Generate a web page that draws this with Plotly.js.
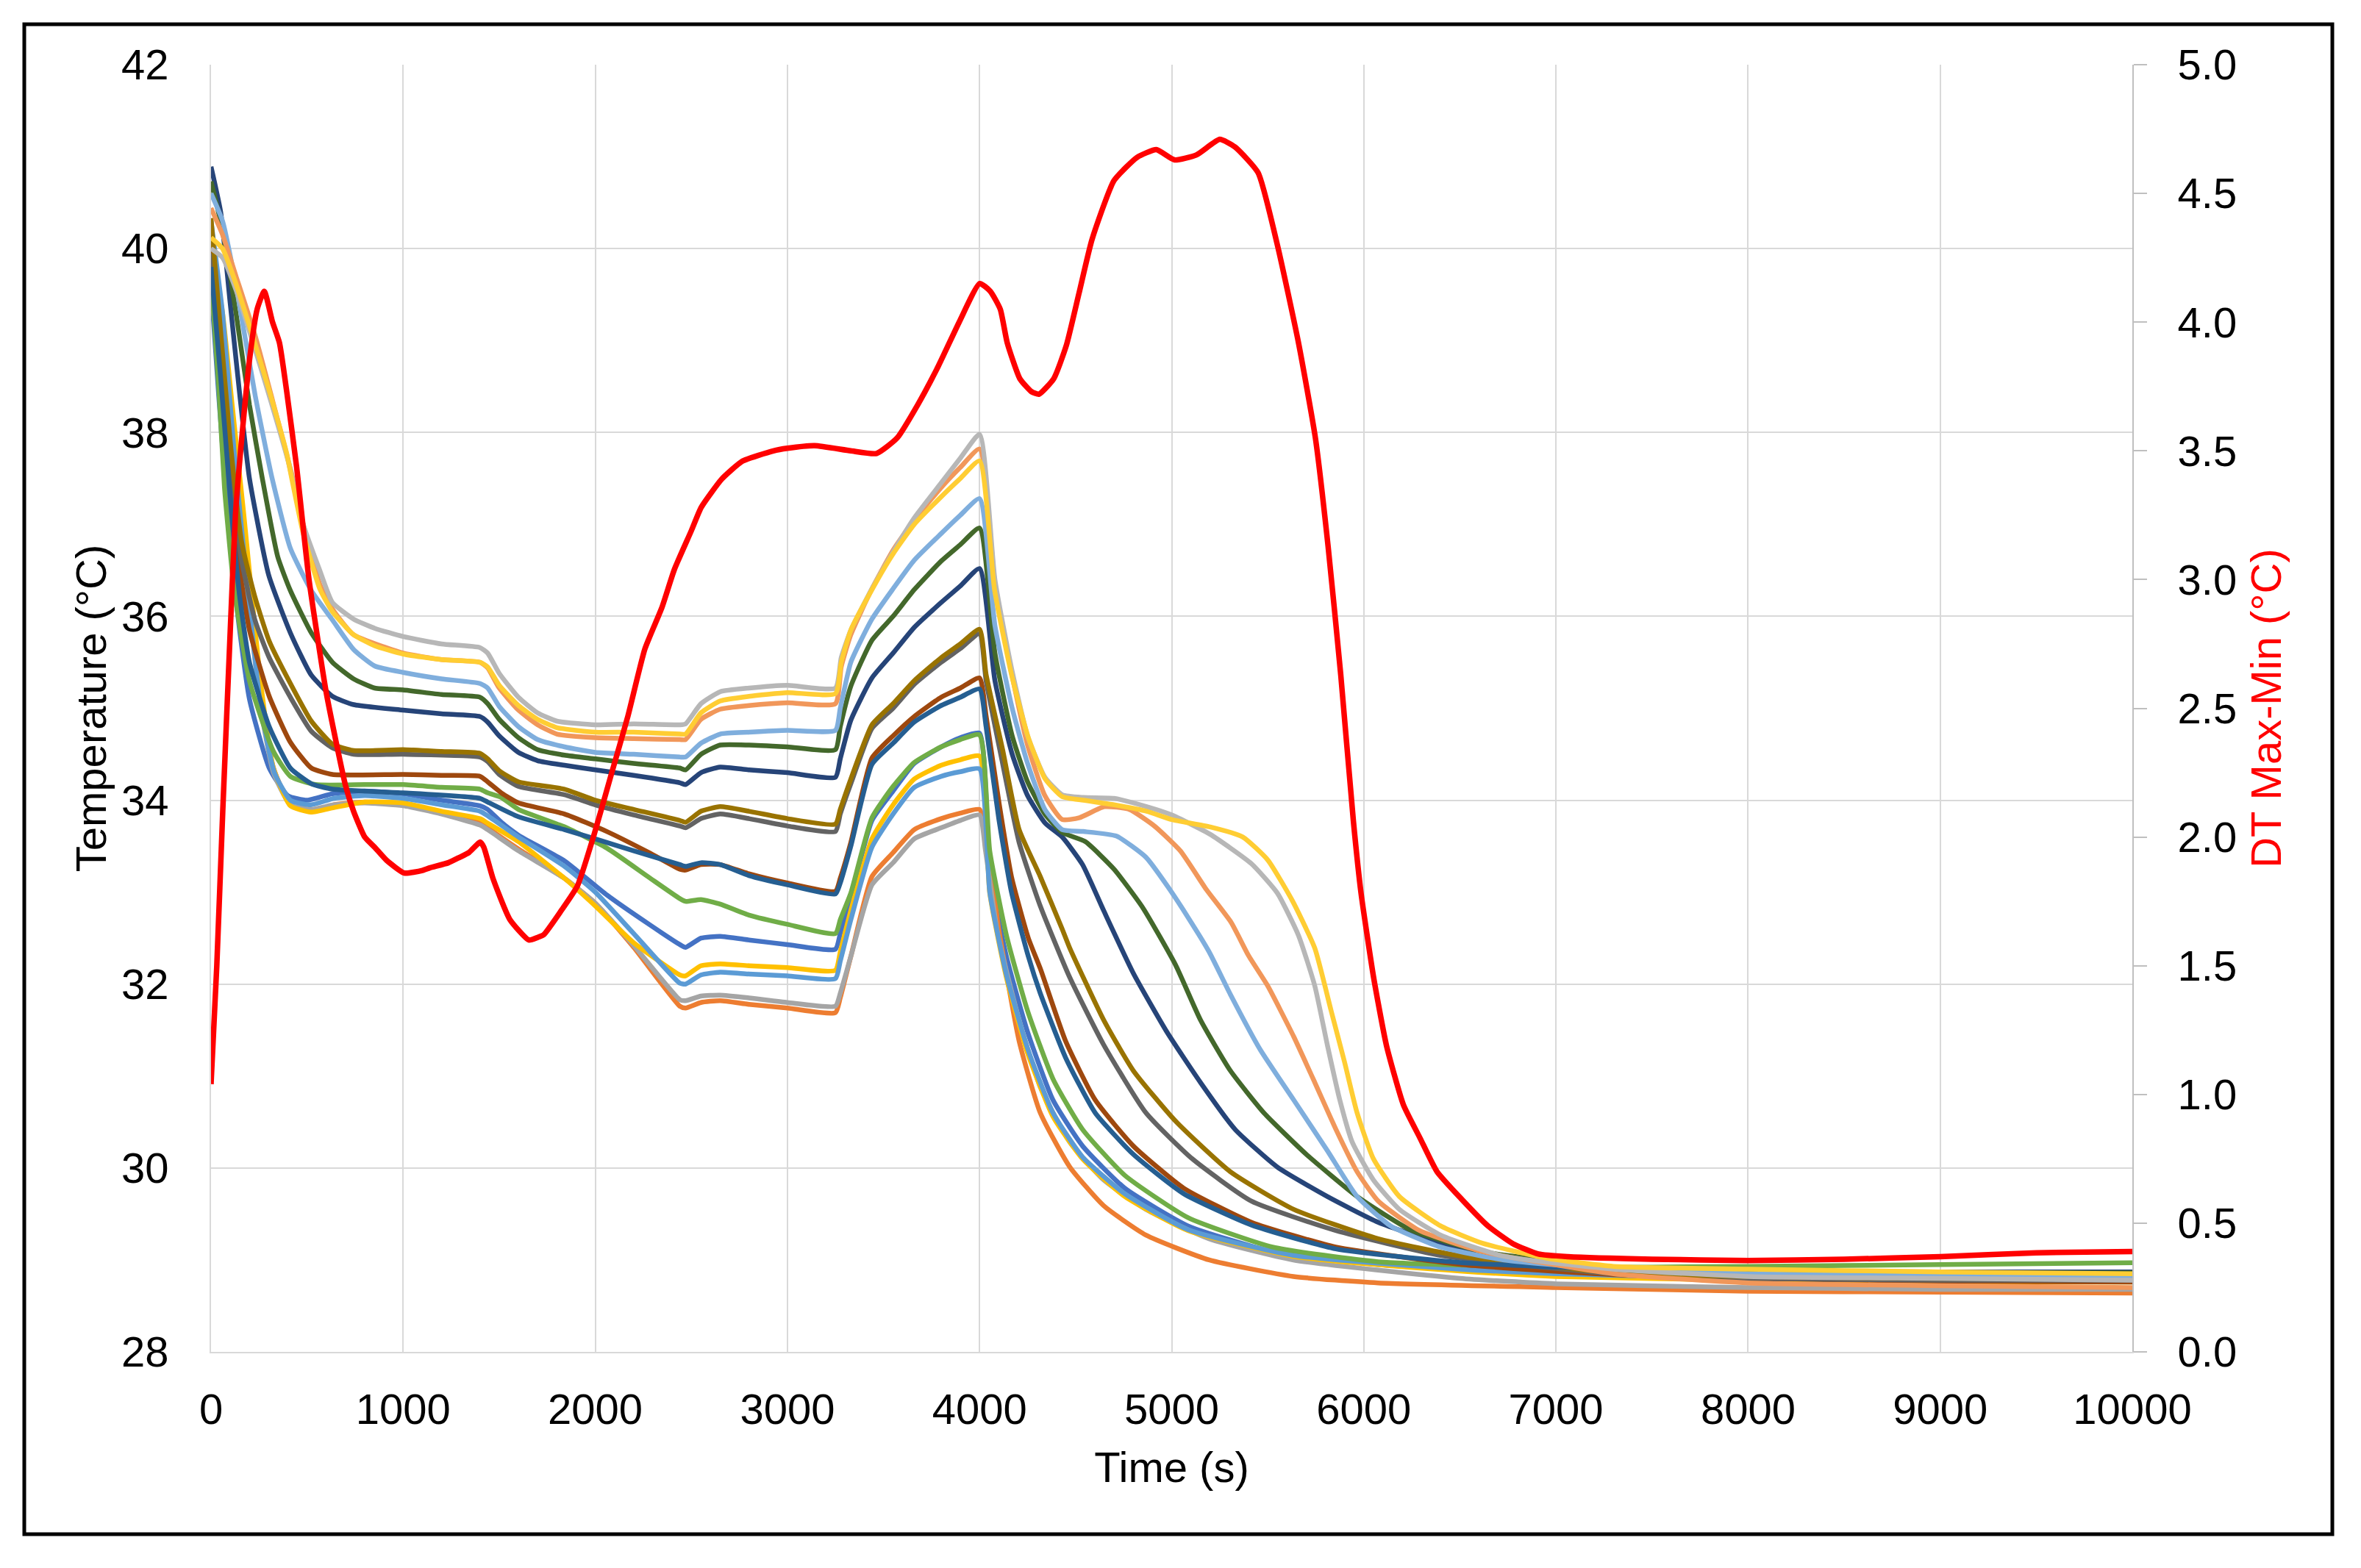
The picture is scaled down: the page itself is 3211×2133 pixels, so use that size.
<!DOCTYPE html>
<html>
<head>
<meta charset="utf-8">
<script src="https://cdn.plot.ly/plotly-3.0.1.min.js"></script>
<style>
html,body{margin:0;padding:0;background:#fff;}
#chart{width:3211px;height:2133px;}
</style>
</head>
<body>
<div id="chart"></div>
<script>
// ---------------- DATA ----------------
// Temperature series (°C) vs time (s)
const time_blue = [0,40,80,140,200,303,400,500,632,800,1000,1200,1400,1440,1511,1600,1840,2060,2280,2440,2470,2550,2650,2800,3000,3250,3275,3330,3440,3550,3660,3800,3900,4000,4053,4140,4250,4382,4536,4756,5085,5525,6075,7000,8000,9000,10000];
const temp_blue = [39.6,38.4,37.3,36.0,35.1,34.35,34.05,34.0,34.07,34.1,34.07,34.0,33.94,33.9,33.76,33.62,33.34,32.97,32.65,32.43,32.4,32.5,32.52,32.48,32.43,32.38,32.55,32.95,33.78,34.1,34.4,34.58,34.68,34.73,33.22,32.3,31.48,30.74,30.24,29.78,29.37,29.09,28.95,28.85,28.83,28.82,28.82];

const time_orange = [0,60,110,171,259,325,413,520,640,800,1000,1200,1400,1440,1600,1840,2000,2200,2440,2470,2550,2650,2800,3000,3250,3275,3330,3440,3550,3660,3800,3900,4000,4031,4100,4206,4316,4470,4646,4866,5195,5634,6075,7000,8000,9000,10000];
const temp_orange = [39.9,39.0,37.9,36.8,35.1,34.35,33.95,33.88,33.95,33.98,33.95,33.86,33.76,33.7,33.47,33.15,32.88,32.4,31.76,31.74,31.8,31.82,31.78,31.74,31.69,31.85,32.3,33.17,33.43,33.68,33.8,33.86,33.9,33.68,32.6,31.38,30.6,30.01,29.59,29.27,29.0,28.82,28.75,28.7,28.66,28.65,28.64];

const time_gray = [0,60,110,171,259,325,413,520,640,800,1000,1200,1400,1440,1600,1840,2000,2200,2440,2470,2550,2650,2800,3000,3250,3275,3330,3440,3550,3660,3800,3900,4000,4031,4096,4206,4316,4470,4646,4866,5195,5634,6500,7000,8000,9000,10000];
const temp_gray = [39.5,38.6,37.6,36.6,35.0,34.3,33.95,33.9,33.95,33.97,33.94,33.85,33.73,33.68,33.45,33.15,32.88,32.42,31.83,31.82,31.87,31.88,31.85,31.8,31.76,31.9,32.3,33.08,33.32,33.58,33.7,33.78,33.84,33.45,32.53,31.61,30.88,30.28,29.87,29.55,29.23,29.0,28.8,28.74,28.7,28.68,28.68];

const time_yellow = [0,60,110,171,259,325,413,520,640,800,1000,1200,1400,1440,1600,1840,2000,2200,2440,2470,2550,2650,2800,3000,3250,3275,3330,3440,3550,3660,3800,3900,4000,4053,4140,4250,4382,4536,4756,5085,5634,6500,7000,8000,9000,10000];
const temp_yellow = [40.0,39.3,38.3,37.1,35.27,34.35,33.94,33.87,33.92,33.98,33.97,33.88,33.8,33.75,33.55,33.15,32.85,32.45,32.1,32.09,32.2,32.22,32.2,32.18,32.15,32.35,32.8,33.58,33.95,34.23,34.38,34.44,34.48,32.99,32.07,31.25,30.56,30.1,29.69,29.32,29.04,28.88,28.82,28.78,28.76,28.76];

const time_lightblue = [0,60,120,190,260,330,413,520,640,800,1000,1200,1400,1440,1600,1840,2000,2200,2440,2470,2550,2650,2800,3000,3250,3275,3330,3440,3550,3660,3800,3900,4000,4053,4140,4250,4382,4536,4756,5085,5634,6500,7000,8000,9000,10000];
const temp_lightblue = [40.3,39.3,37.8,36.3,35.0,34.3,34.0,33.95,34.02,34.05,34.02,33.95,33.88,33.83,33.6,33.28,33.0,32.55,32.01,32.0,32.1,32.13,32.11,32.09,32.06,32.25,32.7,33.49,33.85,34.14,34.26,34.31,34.34,33.0,32.1,31.3,30.6,30.12,29.72,29.33,29.05,28.9,28.85,28.8,28.78,28.78];

const time_green = [0,40,70,120,200,325,413,544,800,1000,1200,1400,1440,1511,1600,1840,2060,2280,2440,2470,2550,2650,2800,3000,3250,3275,3330,3440,3550,3660,3800,3900,4000,4053,4140,4250,4382,4536,4756,5085,5525,6075,7000,8000,9000,10000];
const temp_green = [39.7,38.5,37.4,36.3,35.3,34.53,34.26,34.17,34.17,34.17,34.14,34.12,34.08,34.03,33.9,33.71,33.48,33.16,32.93,32.9,32.92,32.87,32.75,32.65,32.55,32.7,32.99,33.81,34.15,34.41,34.58,34.66,34.71,33.45,32.53,31.71,30.97,30.42,29.92,29.46,29.14,28.98,28.92,28.93,28.95,28.97];

const time_darkblue = [0,50,100,150,200,300,413,522,632,742,1000,1200,1400,1440,1500,1600,1700,1840,2000,2200,2440,2470,2550,2650,2800,3000,3250,3275,3330,3440,3550,3660,3800,3900,4000,4080,4170,4250,4342,4430,4536,4646,4800,4975,5150,5330,5550,5810,6075,6400,6840,7300,8000,9000,10000];
const temp_darkblue = [40.89,40.4,39.4,38.4,37.5,36.45,35.82,35.36,35.13,35.04,34.98,34.94,34.91,34.85,34.7,34.52,34.43,34.38,34.33,34.27,34.19,34.17,34.3,34.36,34.33,34.3,34.25,34.45,34.87,35.33,35.6,35.88,36.15,36.33,36.52,35.3,34.5,34.05,33.75,33.6,33.3,32.8,32.12,31.48,30.93,30.42,30.01,29.69,29.41,29.18,29.0,28.92,28.88,28.87,28.87];

const time_brown = [0,50,100,150,200,303,413,522,632,1000,1200,1400,1440,1511,1600,1840,2060,2280,2440,2470,2550,2650,2800,3000,3250,3275,3330,3440,3550,3660,3800,3900,4000,4034,4100,4166,4254,4316,4448,4602,4800,5063,5415,5854,6513,7300,8000,9000,10000];
const temp_brown = [40.0,38.8,37.5,36.5,35.85,35.13,34.63,34.35,34.28,34.28,34.27,34.26,34.2,34.08,33.97,33.85,33.66,33.43,33.25,33.24,33.3,33.3,33.2,33.1,33.01,33.15,33.54,34.46,34.7,34.91,35.12,35.22,35.33,34.92,33.99,33.17,32.5,32.17,31.38,30.74,30.24,29.78,29.41,29.14,28.95,28.84,28.8,28.77,28.76];

const time_darkgray = [0,50,100,160,230,303,413,522,632,742,1000,1400,1440,1500,1600,1840,2000,2200,2440,2470,2550,2650,2800,3000,3250,3275,3330,3440,3550,3660,3800,3900,4000,4034,4120,4206,4316,4470,4646,4866,5107,5415,5854,6400,7300,8000,9000,10000];
const temp_darkgray = [39.95,38.9,37.7,36.6,35.95,35.55,35.12,34.75,34.57,34.5,34.5,34.47,34.42,34.28,34.15,34.06,33.95,33.84,33.72,33.7,33.8,33.85,33.8,33.72,33.66,33.85,34.18,34.78,35.0,35.26,35.5,35.65,35.81,35.3,34.4,33.54,32.85,32.07,31.34,30.6,30.1,29.64,29.32,29.05,28.85,28.8,28.78,28.78];

const time_olive = [0,50,100,160,230,303,413,522,632,742,1000,1200,1400,1440,1500,1600,1840,2000,2200,2440,2470,2550,2650,2800,3000,3250,3275,3330,3440,3550,3660,3800,3900,4000,4034,4120,4206,4316,4430,4470,4646,4800,5020,5305,5635,6075,6513,7300,8000,9000,10000];
const temp_olive = [40.33,39.1,37.9,36.8,36.2,35.73,35.27,34.86,34.61,34.54,34.55,34.53,34.51,34.45,34.32,34.2,34.12,34.0,33.9,33.78,33.76,33.88,33.93,33.88,33.8,33.74,33.9,34.23,34.82,35.05,35.3,35.55,35.7,35.86,35.37,34.55,33.68,33.17,32.6,32.39,31.61,31.06,30.51,29.96,29.55,29.23,29.04,28.86,28.82,28.8,28.8];

const time_steelblue = [0,50,100,150,200,303,413,522,632,1000,1400,1440,1600,1840,2000,2200,2440,2470,2550,2650,2800,3000,3250,3275,3330,3440,3550,3660,3800,3900,4000,4034,4100,4166,4254,4316,4448,4602,4800,5063,5415,5854,6513,7300,8000,9000,10000];
const temp_steelblue = [39.8,38.6,37.3,36.2,35.5,34.8,34.35,34.18,34.12,34.08,34.02,33.98,33.82,33.68,33.58,33.45,33.3,33.28,33.32,33.3,33.18,33.08,32.98,33.1,33.5,34.39,34.62,34.85,35.03,35.12,35.21,34.8,33.8,33.0,32.3,31.9,31.2,30.6,30.15,29.72,29.38,29.12,28.97,28.9,28.88,28.86,28.85];

const time_darkgreen = [0,60,130,200,267,347,413,522,632,742,852,1000,1200,1400,1440,1500,1600,1700,1840,2000,2200,2440,2470,2550,2650,2800,3000,3250,3275,3330,3440,3550,3660,3800,3900,4000,4080,4170,4250,4340,4430,4550,4700,4850,5020,5150,5305,5480,5700,5965,6250,6620,7300,8000,9000,10000];
const temp_darkgreen = [40.73,40.2,39.3,38.3,37.5,36.65,36.28,35.82,35.5,35.32,35.22,35.2,35.15,35.12,35.05,34.88,34.68,34.55,34.49,34.45,34.4,34.35,34.33,34.5,34.6,34.6,34.58,34.55,34.8,35.24,35.74,36.0,36.29,36.6,36.78,36.96,35.6,34.7,34.2,33.85,33.65,33.55,33.25,32.83,32.21,31.61,31.06,30.6,30.15,29.69,29.32,29.09,28.92,28.88,28.86,28.86];

const time_skyblue = [0,60,130,230,318,413,522,632,742,852,1000,1200,1400,1440,1500,1600,1700,1840,2000,2200,2440,2470,2550,2650,2800,3000,3250,3275,3330,3440,3550,3660,3800,3900,4000,4080,4170,4250,4340,4430,4540,4712,4866,4980,5090,5195,5305,5460,5635,5810,5965,6140,6400,6730,7300,8000,9000,10000];
const temp_skyblue = [40.6,40.3,39.6,38.4,37.5,36.74,36.28,35.96,35.64,35.46,35.39,35.32,35.27,35.22,35.02,34.8,34.66,34.58,34.52,34.5,34.47,34.47,34.62,34.72,34.74,34.76,34.76,35.0,35.5,35.97,36.3,36.61,36.9,37.1,37.28,35.9,35.0,34.4,33.9,33.68,33.66,33.61,33.38,33.06,32.71,32.35,31.89,31.29,30.74,30.19,29.69,29.37,29.14,29.0,28.9,28.85,28.83,28.82];

const time_lightorange = [0,60,130,230,320,420,480,566,632,742,1000,1200,1400,1440,1500,1600,1700,1800,2000,2200,2440,2470,2550,2650,2800,3000,3250,3280,3330,3440,3550,3660,3800,3900,4000,4080,4170,4250,4340,4430,4520,4650,4780,4910,5045,5180,5310,5400,5500,5635,5745,5855,5965,6075,6290,6620,7300,8000,9000,10000];
const temp_lightorange = [40.44,40.15,39.7,39.05,38.35,37.55,37.0,36.35,36.08,35.8,35.6,35.53,35.5,35.44,35.22,34.98,34.82,34.72,34.68,34.67,34.66,34.66,34.88,34.99,35.03,35.06,35.05,35.45,35.8,36.3,36.72,37.05,37.4,37.62,37.82,36.35,35.35,34.6,34.05,33.79,33.81,33.93,33.9,33.72,33.45,33.03,32.67,32.31,31.98,31.43,30.93,30.42,29.96,29.64,29.32,29.09,28.85,28.75,28.72,28.7];

const time_lightgray = [0,60,130,230,310,400,480,566,632,742,852,1000,1200,1400,1440,1500,1600,1700,1800,2000,2200,2440,2470,2550,2650,2800,3000,3250,3280,3330,3440,3550,3660,3800,3900,4000,4080,4170,4250,4340,4430,4540,4700,4870,5000,5200,5415,5550,5660,5745,5810,5875,5940,6050,6185,6400,6730,7300,8000,9000,10000];
const temp_lightgray = [40.0,39.9,39.55,38.9,38.35,37.7,37.0,36.5,36.15,35.97,35.87,35.78,35.7,35.66,35.6,35.38,35.12,34.95,34.86,34.82,34.83,34.82,34.83,35.05,35.18,35.22,35.25,35.22,35.55,35.85,36.3,36.7,37.07,37.45,37.72,37.98,36.4,35.4,34.7,34.25,34.06,34.03,34.02,33.93,33.84,33.63,33.31,32.99,32.53,31.98,31.34,30.74,30.28,29.87,29.55,29.27,29.04,28.9,28.82,28.8,28.78];

const time_lightyellow = [0,60,126,228,305,394,420,478,566,632,742,852,1000,1200,1400,1440,1500,1600,1700,1800,2000,2200,2440,2470,2550,2650,2800,3000,3250,3280,3330,3440,3550,3660,3800,3900,4000,4078,4166,4254,4342,4430,4540,4700,4870,5000,5200,5370,5500,5630,5745,5830,5900,5965,6050,6185,6400,6620,6950,7300,8000,9000,10000];
const temp_lightyellow = [40.12,40.0,39.64,38.97,38.44,37.77,37.5,36.92,36.3,36.05,35.8,35.68,35.59,35.53,35.5,35.45,35.25,35.03,34.88,34.79,34.74,34.74,34.72,34.72,34.95,35.08,35.13,35.17,35.16,35.5,35.85,36.29,36.68,37.0,37.3,37.5,37.69,36.29,35.37,34.68,34.23,34.04,34.0,33.95,33.88,33.79,33.71,33.6,33.35,32.9,32.39,31.71,31.15,30.6,30.1,29.69,29.37,29.18,29.02,28.93,28.9,28.87,28.85];

// DT Max-Min (°C) on the secondary axis
const time_dt = [0,30,61,100,127,165,203,240,277,320,356,394,445,510,600,700,742,800,852,913,1006,1100,1138,1235,1291,1343,1401,1420,1467,1555,1654,1700,1731,1819,1907,1994,2082,2170,2258,2346,2412,2500,2551,2658,2766,2927,3000,3142,3330,3464,3571,3679,3786,3894,4001,4056,4108,4144,4210,4270,4309,4386,4452,4517,4585,4700,4820,4920,5015,5130,5250,5330,5450,5550,5660,5748,5814,5880,5946,5986,6052,6118,6206,6293,6381,6513,6645,6777,6909,7063,7500,8000,8500,9000,9500,10000];
const dt_values = [1.04,1.5,2.10,2.8,3.25,3.59,3.87,4.05,4.12,4.0,3.92,3.73,3.44,3.0,2.56,2.2,2.1,2.0,1.96,1.91,1.86,1.87,1.88,1.90,1.92,1.94,1.98,1.96,1.84,1.68,1.60,1.61,1.62,1.71,1.81,2.01,2.24,2.47,2.73,2.89,3.04,3.19,3.28,3.39,3.46,3.50,3.51,3.52,3.50,3.49,3.55,3.68,3.83,4.00,4.15,4.12,4.05,3.92,3.78,3.73,3.72,3.78,3.91,4.11,4.32,4.55,4.64,4.67,4.63,4.65,4.71,4.68,4.58,4.30,3.92,3.55,3.13,2.63,2.06,1.78,1.45,1.19,0.96,0.83,0.70,0.59,0.49,0.42,0.38,0.37,0.36,0.355,0.36,0.37,0.385,0.39];

// Axis tick values and labels
const xTicks = [0,1000,2000,3000,4000,5000,6000,7000,8000,9000,10000];
const xTickLabels = ['0','1000','2000','3000','4000','5000','6000','7000','8000','9000','10000'];
const yTicks = [28,30,32,34,36,38,40,42];
const y2Ticks = [0,0.5,1,1.5,2,2.5,3,3.5,4,4.5,5];

// ---------------- CHART ----------------
const FONT = 'Liberation Sans, Arial, Helvetica, sans-serif';
const seriesList = [
  {t: time_blue, v: temp_blue, c: '#4472C4'},
  {t: time_orange, v: temp_orange, c: '#ED7D31'},
  {t: time_gray, v: temp_gray, c: '#A5A5A5'},
  {t: time_yellow, v: temp_yellow, c: '#FFC000'},
  {t: time_lightblue, v: temp_lightblue, c: '#5B9BD5'},
  {t: time_green, v: temp_green, c: '#70AD47'},
  {t: time_darkblue, v: temp_darkblue, c: '#264478'},
  {t: time_brown, v: temp_brown, c: '#9E480E'},
  {t: time_darkgray, v: temp_darkgray, c: '#636363'},
  {t: time_olive, v: temp_olive, c: '#997300'},
  {t: time_steelblue, v: temp_steelblue, c: '#255E91'},
  {t: time_darkgreen, v: temp_darkgreen, c: '#43682B'},
  {t: time_skyblue, v: temp_skyblue, c: '#7FAEDD'},
  {t: time_lightorange, v: temp_lightorange, c: '#F1975A'},
  {t: time_lightgray, v: temp_lightgray, c: '#B7B7B7'},
  {t: time_lightyellow, v: temp_lightyellow, c: '#FFCD33'}
];

const traces = seriesList.map((s, i) => ({
  x: s.t, y: s.v, type: 'scatter', mode: 'lines',
  name: 'T' + (i + 1),
  line: {color: s.c, width: 6.5, shape: 'spline', smoothing: 0.5},
  hoverinfo: 'skip'
}));
traces.push({
  x: time_dt, y: dt_values, type: 'scatter', mode: 'lines', yaxis: 'y2',
  name: 'DT Max-Min',
  line: {color: '#FF0000', width: 7.5, shape: 'spline', smoothing: 0.5},
  hoverinfo: 'skip'
});

const gridC = '#d9d9d9';
const layout = {
  width: 3211, height: 2133,
  margin: {l: 287, r: 311, t: 88, b: 294, pad: 0},
  paper_bgcolor: '#ffffff', plot_bgcolor: '#ffffff',
  showlegend: false,
  font: {family: FONT, size: 58, color: '#000000'},
  xaxis: {
    range: [0, 10000], tickmode: 'array', tickvals: xTicks, ticktext: xTickLabels,
    showgrid: true, gridcolor: gridC, gridwidth: 2,
    zeroline: false, showline: true, linecolor: gridC, linewidth: 2,
    ticks: '', ticklabelstandoff: 26, automargin: false,
    tickfont: {family: FONT, size: 58, color: '#000'},
    title: {text: 'Time (s)', font: {family: FONT, size: 58, color: '#000'}, standoff: 28}
  },
  yaxis: {
    range: [28, 42], tickmode: 'array', tickvals: yTicks,
    showgrid: true, gridcolor: gridC, gridwidth: 2,
    zeroline: false, showline: true, linecolor: gridC, linewidth: 2,
    ticks: '', ticklabelstandoff: 44, automargin: false,
    tickfont: {family: FONT, size: 58, color: '#000'},
    title: {text: 'Temperature (°C)', font: {family: FONT, size: 58, color: '#000'}, standoff: 2}
  },
  yaxis2: {
    overlaying: 'y', side: 'right', anchor: 'x',
    range: [0, 5], tickmode: 'array', tickvals: y2Ticks, tickformat: '.1f',
    showgrid: false, zeroline: false, showline: true, linecolor: '#bfbfbf', linewidth: 2,
    ticks: 'outside', ticklen: 18, tickwidth: 2, tickcolor: '#bfbfbf',
    ticklabelstandoff: 30, automargin: false,
    tickfont: {family: FONT, size: 58, color: '#000'},
    title: {text: 'DT Max-Min (°C)', font: {family: FONT, size: 58, color: '#FF0000'}, standoff: 20}
  },
  shapes: [{
    type: 'rect', xref: 'paper', yref: 'paper',
    x0: -0.0972, x1: 1.1041, y0: -0.1416, y1: 1.0314,
    line: {color: '#000000', width: 5}, fillcolor: 'rgba(0,0,0,0)', layer: 'above'
  }]
};

Plotly.newPlot('chart', traces, layout, {staticPlot: true, displayModeBar: false});
</script>
</body>
</html>
